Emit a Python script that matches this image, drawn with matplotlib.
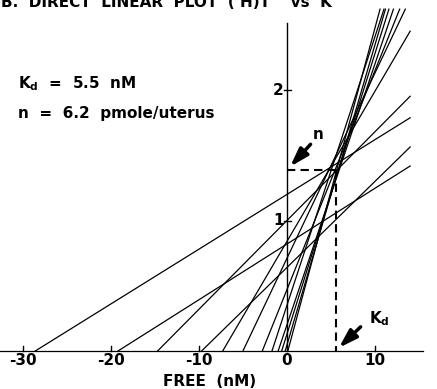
import numpy as np
import matplotlib.pyplot as plt

# Direct linear plot: each point (free, bound) gives a line through (-free, 0) and (0, bound)
free = [28.6, 19.2, 14.7, 9.7, 7.3, 5.0, 2.8, 1.7, 1.0, 0.6, 0.2, -0.1]
bound = [1.20, 0.82, 1.00, 0.64, 0.84, 0.71, 0.47, 0.35, 0.20, 0.129, 0.046, -0.025]

kd = 5.57
n_max = 1.387

x_ticks = [-30, -20, -10, 0, 10]
x_tick_labels = ["-30", "-20", "-10", "0", "10"]
y_ticks = [1, 2]
y_tick_labels = ["1", "2"]

x_end = 14.0
y_top = 2.62

plt.rcParams["font.weight"] = "bold"
fs = 11

fig = plt.figure(figsize=(4.37, 3.89), dpi=100)
ax = fig.add_axes([0, 0, 1, 1])
ax.set_xlim(-32.6, 17.05)
ax.set_ylim(-0.291, 2.69)
ax.axis("off")

# lines
for f, b in zip(free, bound):
    slope = b / f
    x0 = -f
    x1 = min(x_end, x0 + y_top / slope)
    xs = np.array([x0, x1])
    ax.plot(xs, slope * (xs - x0), color="black", lw=0.9)

# axes drawn by hand
ax.plot([-32.6, 15.5], [0, 0], color="black", lw=0.9)
ax.plot([0, 0], [0, 2.51], color="black", lw=1.0)
for xt, lab in zip(x_ticks, x_tick_labels):
    ax.plot([xt, xt], [0, 0.035], color="black", lw=1.0)
    ax.text(xt, -0.075, lab, ha="center", va="center", fontsize=fs)
for yt, lab in zip(y_ticks, y_tick_labels):
    ax.plot([-0.3, 0.5], [yt, yt], color="black", lw=1.0)
    ax.text(-0.4, yt, lab, ha="right", va="center", fontsize=fs)

ax.text(-8.8, -0.235, "FREE  (nM)", ha="center", va="center", fontsize=fs)

# dashed construction lines to the common intersection
ax.plot([0, kd], [n_max, n_max], color="black", lw=1.5, ls=(0, (4, 2.5)))
ax.plot([kd, kd], [n_max, 0], color="black", lw=1.5, ls=(0, (4, 2.5)))

# arrows
ax.annotate("", xy=(0.15, n_max + 0.01), xytext=(2.9, 1.6),
            arrowprops=dict(arrowstyle="-|>,head_length=1.1,head_width=0.35",
                            color="black", lw=2.5))
ax.text(3.6, 1.66, "n", ha="center", va="center", fontsize=fs)
ax.annotate("", xy=(kd + 0.1, 0.01), xytext=(8.6, 0.2),
            arrowprops=dict(arrowstyle="-|>,head_length=1.1,head_width=0.35",
                            color="black", lw=2.5))
ax.text(9.3, 0.25, "K$_\\mathregular{d}$", ha="left", va="center", fontsize=fs)

ax.text(-30.6, 2.05, "K$_\\mathregular{d}$  =  5.5  nM", ha="left", va="center", fontsize=fs)
ax.text(-30.6, 1.82, "n  =  6.2  pmole/uterus", ha="left", va="center", fontsize=fs)

ax.text(-32.5, 2.672, "B.  DIRECT  LINEAR  PLOT  ( H)T'   vs  K'", ha="left", va="center",
        fontsize=fs)

plt.savefig("out.png", dpi=100)
